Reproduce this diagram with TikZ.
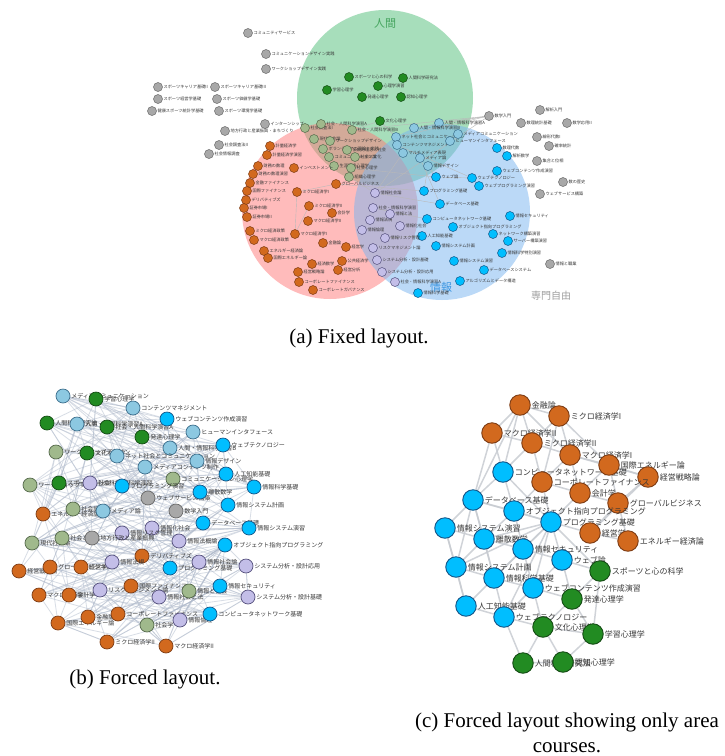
\documentclass[tikz,border=0pt]{standalone}
\usepackage{fontspec}
\setmainfont{Liberation Serif}
\newfontfamily\jpfont{Noto Sans CJK JP}
\usepackage{xcolor}

\definecolor{cgray}{RGB}{168,168,168}   \definecolor{dgray}{RGB}{105,105,105}
\definecolor{corange}{RGB}{210,105,30}  \definecolor{dorange}{RGB}{125,60,20}
\definecolor{cgreen}{RGB}{34,139,34}    \definecolor{dgreen}{RGB}{20,75,20}
\definecolor{ccyan}{RGB}{0,190,255}     \definecolor{dcyan}{RGB}{20,85,135}
\definecolor{cteal}{RGB}{140,200,225}   \definecolor{dteal}{RGB}{60,110,140}
\definecolor{clav}{RGB}{195,190,232}    \definecolor{dlav}{RGB}{85,80,125}
\definecolor{colive}{RGB}{160,185,140}  \definecolor{dolive}{RGB}{85,105,75}
\definecolor{labtext}{RGB}{55,55,55}
\definecolor{edgecol}{RGB}{178,188,205}
\definecolor{cedgecol}{RGB}{200,204,210}
\definecolor{vgreen}{RGB}{80,190,120}
\definecolor{vred}{RGB}{255,120,120}
\definecolor{vblue}{RGB}{120,180,240}
\definecolor{humancol}{RGB}{70,165,95}
\definecolor{infocol}{RGB}{60,150,225}

\pgfdeclarelayer{bg}
\pgfdeclarelayer{venn}
\pgfdeclarelayer{edges}
\pgfsetlayers{bg,venn,edges,main}

\begin{document}
\begin{tikzpicture}[
    x=1pt, y=-1pt,
    anode/.style={circle, inner sep=0pt, minimum size=9pt, fill=c#1, draw=d#1, line width=0.5pt},
    alab/.style={font=\jpfont\fontsize{4.2}{5}\selectfont, text=labtext, inner sep=0.6pt},
    bnode/.style={circle, inner sep=0pt, minimum size=14pt, fill=c#1, draw=d#1, line width=0.7pt},
    blab/.style={font=\jpfont\fontsize{6}{7}\selectfont, text=labtext, inner sep=0.8pt},
    cnode/.style={circle, inner sep=0pt, minimum size=20.5pt, fill=c#1, draw=d#1, line width=0.9pt},
    clab/.style={font=\jpfont\fontsize{8}{9}\selectfont, text=labtext, inner sep=1pt},
    venn/.style={fill=#1, fill opacity=0.5, draw=none},
    aedge/.style={draw=gray!55, line width=0.4pt},
    bedge/.style={draw=edgecol, line width=0.8pt, opacity=0.5},
    cedge/.style={draw=cedgecol, line width=1.5pt, opacity=0.85},
    caption/.style={font=\fontsize{21}{25}\selectfont}
]

\begin{pgfonlayer}{bg}
\fill[white] (0,0) rectangle (724,756);
\end{pgfonlayer}
\useasboundingbox (0,0) rectangle (724,756);

% (a) Fixed layout: area circles
\begin{pgfonlayer}{venn}
\fill[venn=vgreen] (385,98) circle[radius=88];
\fill[venn=vred] (330,211) circle[radius=88];
\fill[venn=vblue] (442,212) circle[radius=88];
\end{pgfonlayer}
\node[font=\jpfont\fontsize{11}{12}\selectfont, text=humancol] (lab_human) at (385,23) {人間};
\node[font=\jpfont\fontsize{11}{12}\selectfont, text=infocol] (lab_info) at (441,287) {情報};
\node[font=\jpfont\fontsize{10}{11}\selectfont, text=gray!75] (lab_free) at (551,296) {専門自由};

% free electives
\foreach \x/\y/\t [count=\i] in {248/33/コミュニティサービス, 266/54/コミュニケーションデザイン実践,
    266/69/ワークショップデザイン実践, 158/87/スポーツキャリア基礎II, 215/87/スポーツキャリア基礎III,
    158/99/スポーツ経営学基礎, 217/99/スポーツ価値学基礎, 152/111/健康スポーツ統計学基礎,
    219/111/スポーツ環境学基礎, 265/124/インターンシップ, 225/131/地方行政と産業振興・まちづくり,
    219/145/社会調査法II, 209/154/社会情報調査, 489/116/数学入門, 540/110/解析入門,
    521/123/数理統計基礎, 567/123/数学応用II, 537/137/線形代数I, 549/146/確率統計,
    537/161/集合と位相, 563/182/数の歴史, 540/194/ウェブサービス構築, 550/264/情報と職業}
  \node[anode=gray, label={[alab]right:\t}] (ag\i) at (\x,\y) {};

% human area
\foreach \x/\y/\t [count=\i] in {349/77/スポーツと心の科学, 403/78/人間科学研究法, 378/86/心理学演習,
    327/90/学習心理学, 362/97/発達心理学, 401/97/認知心理学, 380/121/文化心理学}
  \node[anode=green, label={[alab]right:\t}] (ah\i) at (\x,\y) {};

% human + management
\foreach \x/\y/\t [count=\i] in {305/128/社会調査法I, 321/124/社会・人間科学演習A, 352/130/社会・人間科学演習B,
    314/139/現代社会論, 330/141/ワークショップデザイン, 323/149/ボランティアの理論と実践,
    347/150/伝統的理念と社会, 329/157/コミュニケーション論, 355/157/社会と文化,
    334/166/生涯発達心理学, 351/168/社会心理学, 349/177/組織心理学}
  \node[anode=olive, label={[alab]right:\t}] (ao\i) at (\x,\y) {};

% human + information
\foreach \x/\y/\t [count=\i] in {439/123/人間・情報科学演習A, 414/128/人間・情報科学演習B,
    396/137/ネット社会とコミュニケーション, 458/134/メディアコミュニケーション, 397/145/コンテンツマネジメント,
    450/141/ヒューマンインタフェース, 403/153/マルチメディア表現, 420/158/メディア論, 428/166/情報デザイン}
  \node[anode=teal, label={[alab]right:\t}] (at\i) at (\x,\y) {};

% information area
\foreach \x/\y/\t [count=\i] in {497/148/数理代数, 507/156/解析数学, 497/171/ウェブコンテンツ作成演習,
    472/178/ウェブテクノロジー, 479/186/ウェブプログラミング演習, 436/177/ウェブ論, 424/191/プログラミング基礎,
    440/204/データベース基礎, 427/219/コンピュータネットワーク基礎, 453/227/オブジェクト指向プログラミング,
    510/216/情報セキュリティ, 493/234/ネットワーク構築演習, 508/241/サーバー構築演習, 422/236/人工知能基礎,
    436/246/情報システム計画, 502/253/情報科学特別演習, 454/261/情報システム演習, 484/270/データベースシステム,
    460/281/アルゴリズムとデータ構造, 418/293/情報科学基礎}
  \node[anode=cyan, label={[alab]right:\t}] (ab\i) at (\x,\y) {};

% management + information
\foreach \x/\y/\t [count=\i] in {375/193/情報社会論, 373/208/社会・情報科学演習, 370/220/情報法規,
    362/230/情報倫理, 385/238/情報リスク管理, 373/248/リスクマネジメント論, 377/260/システム分析・設計基礎,
    382/272/システム分析・設計応用, 395/282/社会・情報科学演習A, 390/214/情報と法, 400/226/情報化社会}
  \node[anode=lav, label={[alab]right:\t}] (al\i) at (\x,\y) {};

% management area
\foreach \x/\y/\t [count=\i] in {270/146/計量経済学, 267/155/計量経済学演習, 258/166/財務の数理,
    253/174/財務の数理演習, 250/183/金融ファイナンス, 247/191/国際ファイナンス, 246/200/デリバティブズ,
    244/208/証券市場I, 247/217/証券市場II, 250/231/ミクロ経済政策, 254/240/マクロ経済政策,
    264/251/エネルギー経済論, 268/258/国際エネルギー論, 294/168/インベストメント, 297/192/ミクロ経済学I,
    309/206/ミクロ経済学II, 332/213/会計学, 308/221/マクロ経済学II, 295/234/マクロ経済学I,
    336/184/グローバルビジネス, 323/243/金融論, 346/247/経営学, 312/264/経済数学, 342/261/公共経済学,
    298/272/経営戦略論, 338/270/経営分析, 299/282/コーポレートファイナンス, 313/290/コーポレートガバナンス}
  \node[anode=orange, label={[alab]right:\t}] (ar\i) at (\x,\y) {};

\begin{pgfonlayer}{edges}
\foreach \p/\q in {ag14/at1, ag14/at2, ag14/at3, ag14/ao3, ag14/al1, ar20/ab7, ar15/ar19, ar15/ar20,
    ar19/ar16, at9/ab7, at9/ab6, at8/ab8, at7/al1, ao12/al1, ao11/ab6, al2/ab9, al1/ab8,
    at5/ab4, ah7/at3, ah7/ao3, al5/ab14, ab6/ab4}
  \draw[aedge] (\p) -- (\q);
\end{pgfonlayer}

\node[caption] (cap_a) at (359,338) {(a) Fixed layout.};

% (b) Forced layout
\foreach \x/\y/\s/\t [count=\i] in {63/396/teal/メディアコミュニケーション, 96/399/green/学習心理学,
    133/408/teal/コンテンツマネジメント, 47/423/green/人間科学研究法, 77/424/teal/人間・情報科学演習A,
    107/427/green/社会・人間科学演習A, 142/437/green/発達心理学, 167/419/cyan/ウェブコンテンツ作成演習,
    193/432/teal/ヒューマンインタフェース, 170/448/teal/人間・情報科学演習B, 223/445/cyan/ウェブテクノロジー,
    56/452/olive/ワークショップデザイン, 87/453/green/文化心理学, 117/456/teal/ネット社会とコミュニケーション,
    145/467/teal/メディアコンテンツ制作, 197/461/teal/情報デザイン, 173/479/olive/コミュニケーション心理学,
    226/474/cyan/人工知能基礎, 254/487/cyan/情報科学基礎, 30/485/olive/ワークショップ実践,
    59/483/green/スポーツと心の科学, 90/483/lav/社会・情報科学演習, 122/486/cyan/プログラミング演習,
    148/498/gray/ウェブサービス構築, 200/492/cyan/離散数学, 43/514/orange/エネルギー経済論,
    73/509/olive/社会調査法, 103/511/teal/メディア論, 228/505/cyan/情報システム計画, 176/511/gray/数学入門,
    152/528/lav/情報化社会, 122/533/lav/情報リスク管理, 32/543/olive/現代社会論, 62/538/olive/社会と文化,
    92/538/gray/地方行政と産業振興, 203/523/cyan/データベース基礎, 249/528/cyan/情報システム演習,
    179/541/lav/情報法概論, 142/556/orange/デリバティブズ, 225/545/cyan/オブジェクト指向プログラミング,
    19/571/orange/経営戦略論, 50/567/orange/グローバルビジネス, 81/567/orange/経営学, 112/562/lav/情報法規,
    170/568/cyan/プログラミング基礎, 199/562/lav/情報社会論, 246/566/lav/システム分析・設計応用,
    39/595/orange/マクロ経済学, 69/595/orange/会計学, 100/590/lav/リスクマネジメント論,
    131/586/orange/国際ファイナンス, 159/597/lav/情報社会と法, 189/591/olive/情報と社会,
    220/586/cyan/情報セキュリティ, 248/597/lav/システム分析・設計基礎, 58/623/orange/国際エネルギー論,
    88/617/orange/金融論, 118/614/orange/コーポレートファイナンス, 147/625/olive/社会学,
    180/620/lav/情報倫理, 210/614/cyan/コンピュータネットワーク基礎, 107/642/orange/ミクロ経済学II,
    166/646/orange/マクロ経済学II}
  \node[bnode=\s, label={[blab]right:\t}] (b\i) at (\x,\y) {};

\begin{pgfonlayer}{edges}
\pgfmathsetseed{11}
\foreach \i in {1,...,63} {
  \pgfmathtruncatemacro\lo{max(1,\i-24)}
  \pgfmathtruncatemacro\hi{min(63,\i+24)}
  \foreach \k in {1,...,6} {
    \pgfmathrandominteger{\j}{\lo}{\hi}
    \ifnum\j=\i\else\draw[bedge] (b\i) -- (b\j);\fi
  }
}
\end{pgfonlayer}

\node[caption] (cap_b) at (145,679) {(b) Forced layout.};

% (c) Forced layout, area courses only
\node[cnode=orange, label={[clab]right:金融論}] (c_kinyu) at (520,405) {};
\node[cnode=orange, label={[clab]right:ミクロ経済学I}] (c_micro1) at (559,416) {};
\node[cnode=orange, label={[clab]right:マクロ経済学II}] (c_macro2) at (492,433) {};
\node[cnode=orange, label={[clab]right:ミクロ経済学II}] (c_micro2) at (532,443) {};
\node[cnode=orange, label={[clab]right:マクロ経済学I}] (c_macro1) at (570,455) {};
\node[cnode=cyan, label={[clab]right:コンピュータネットワーク基礎}] (c_network) at (503,472) {};
\node[cnode=orange, label={[clab]right:国際エネルギー論}] (c_energy_intl) at (609,465) {};
\node[cnode=orange, label={[clab]right:経営戦略論}] (c_strategy) at (648,477) {};
\node[cnode=orange, label={[clab]right:コーポレートファイナンス}] (c_corp) at (542,482) {};
\node[cnode=orange, label={[clab]right:会計学}] (c_account) at (580,493) {};
\node[cnode=orange, label={[clab]right:グローバルビジネス}] (c_global) at (618,503) {};
\node[cnode=cyan, label={[clab]right:データベース基礎}] (c_database) at (473,500) {};
\node[cnode=cyan, label={[clab]right:オブジェクト指向プログラミング}] (c_oop) at (514,511) {};
\node[cnode=cyan, label={[clab]right:プログラミング基礎}] (c_prog) at (551,522) {};
\node[cnode=orange, label={[clab]right:経営学}] (c_manage) at (590,533) {};
\node[cnode=orange, label={[clab]right:エネルギー経済論}] (c_energy) at (628,541) {};
\node[cnode=cyan, label={[clab]right:情報システム演習}] (c_infosys_ex) at (445,528) {};
\node[cnode=cyan, label={[clab]right:離散数学}] (c_discrete) at (484,539) {};
\node[cnode=cyan, label={[clab]right:情報セキュリティ}] (c_security) at (523,549) {};
\node[cnode=cyan, label={[clab]right:ウェブ論}] (c_web) at (562,560) {};
\node[cnode=green, label={[clab]right:スポーツと心の科学}] (c_sports) at (600,571) {};
\node[cnode=cyan, label={[clab]right:情報システム計画}] (c_infosys_plan) at (456,567) {};
\node[cnode=cyan, label={[clab]right:情報科学基礎}] (c_infosci) at (494,578) {};
\node[cnode=cyan, label={[clab]right:ウェブコンテンツ作成演習}] (c_webcontent) at (533,588) {};
\node[cnode=green, label={[clab]right:発達心理学}] (c_develop) at (572,599) {};
\node[cnode=cyan, label={[clab]right:人工知能基礎}] (c_ai) at (466,606) {};
\node[cnode=cyan, label={[clab]right:ウェブテクノロジー}] (c_webtech) at (504,617) {};
\node[cnode=green, label={[clab]right:文化心理学}] (c_culture) at (543,627) {};
\node[cnode=green, label={[clab]right:学習心理学}] (c_learn) at (593,634) {};
\node[cnode=green, label={[clab]right:人間科学研究法}] (c_human) at (523,663) {};
\node[cnode=green, label={[clab]right:認知心理学}] (c_cognit) at (563,662) {};

\begin{pgfonlayer}{edges}
\foreach \p/\q in {c_kinyu/c_micro1, c_kinyu/c_macro2, c_kinyu/c_micro2, c_kinyu/c_macro1, c_kinyu/c_network,
    c_kinyu/c_database, c_micro1/c_micro2, c_micro1/c_macro1, c_micro1/c_energy_intl, c_micro1/c_corp,
    c_macro2/c_micro2, c_macro2/c_database, c_macro2/c_network, c_micro2/c_macro1, c_micro2/c_corp,
    c_micro2/c_network, c_macro1/c_energy_intl, c_macro1/c_account, c_macro1/c_corp, c_macro1/c_strategy,
    c_energy_intl/c_strategy, c_energy_intl/c_global, c_energy_intl/c_account, c_strategy/c_global,
    c_strategy/c_manage, c_corp/c_account, c_corp/c_prog, c_corp/c_oop, c_account/c_global, c_account/c_prog,
    c_global/c_manage, c_global/c_energy, c_manage/c_energy, c_network/c_database, c_network/c_oop,
    c_network/c_prog, c_database/c_oop, c_database/c_infosys_ex, c_database/c_infosys_plan,
    c_database/c_discrete, c_database/c_prog, c_database/c_infosci, c_oop/c_prog, c_oop/c_security,
    c_oop/c_discrete, c_prog/c_security, c_prog/c_web, c_prog/c_manage, c_prog/c_discrete, c_prog/c_infosci,
    c_prog/c_webcontent, c_prog/c_webtech, c_prog/c_sports, c_prog/c_infosys_plan, c_infosys_ex/c_infosys_plan,
    c_infosys_ex/c_discrete, c_infosys_ex/c_ai, c_discrete/c_infosys_plan, c_discrete/c_infosci,
    c_discrete/c_security, c_security/c_web, c_security/c_webcontent, c_security/c_infosci, c_web/c_sports,
    c_web/c_webcontent, c_web/c_develop, c_infosys_plan/c_ai, c_infosys_plan/c_infosci, c_infosci/c_webtech,
    c_infosci/c_webcontent, c_infosci/c_ai, c_webcontent/c_webtech, c_webcontent/c_develop,
    c_webcontent/c_culture, c_ai/c_webtech, c_webtech/c_culture, c_webtech/c_human, c_develop/c_culture,
    c_develop/c_learn, c_develop/c_sports, c_culture/c_human, c_culture/c_cognit, c_culture/c_learn,
    c_learn/c_cognit, c_human/c_cognit, c_sports/c_learn}
  \draw[cedge] (\p) -- (\q);
\end{pgfonlayer}

\node[caption] (cap_c) at (567,722) {(c) Forced layout showing only area};
\node[caption] (cap_c2) at (567,748) {courses.};

\end{tikzpicture}
\end{document}
